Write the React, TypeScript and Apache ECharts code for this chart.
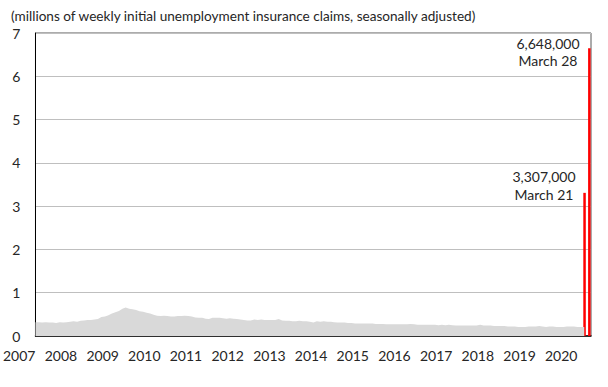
import React, { useEffect, useRef } from "react";
import * as echarts from "echarts";

// Monthly initial claims, millions (seasonally adjusted), Jan 2007 .. Mar 2020 (pre-surge weeks)
const firstYear = 2007;
const claims2007 = [0.32, 0.32, 0.31, 0.32, 0.31, 0.31, 0.30, 0.32, 0.31, 0.32, 0.33, 0.34];
const claims2008 = [0.33, 0.35, 0.36, 0.37, 0.37, 0.38, 0.39, 0.44, 0.45, 0.48, 0.52, 0.55];
const claims2009 = [0.58, 0.63, 0.66, 0.63, 0.62, 0.60, 0.57, 0.56, 0.54, 0.52, 0.49, 0.47];
const claims2010 = [0.46, 0.47, 0.46, 0.45, 0.45, 0.46, 0.46, 0.47, 0.46, 0.45, 0.43, 0.42];
const claims2011 = [0.42, 0.40, 0.39, 0.42, 0.42, 0.42, 0.41, 0.40, 0.41, 0.40, 0.39, 0.38];
const claims2012 = [0.37, 0.36, 0.36, 0.38, 0.37, 0.38, 0.37, 0.37, 0.37, 0.37, 0.39, 0.36];
const claims2013 = [0.35, 0.35, 0.34, 0.34, 0.35, 0.34, 0.34, 0.33, 0.31, 0.34, 0.33, 0.34];
const claims2014 = [0.33, 0.33, 0.32, 0.31, 0.31, 0.31, 0.30, 0.30, 0.29, 0.29, 0.29, 0.29];
const claims2015 = [0.29, 0.29, 0.28, 0.28, 0.28, 0.27, 0.27, 0.27, 0.27, 0.27, 0.27, 0.27];
const claims2016 = [0.28, 0.27, 0.26, 0.26, 0.26, 0.26, 0.26, 0.26, 0.25, 0.26, 0.25, 0.26];
const claims2017 = [0.25, 0.24, 0.24, 0.24, 0.24, 0.24, 0.24, 0.24, 0.26, 0.24, 0.24, 0.24];
const claims2018 = [0.23, 0.23, 0.23, 0.23, 0.22, 0.22, 0.22, 0.21, 0.21, 0.21, 0.22, 0.22];
const claims2019 = [0.22, 0.23, 0.22, 0.21, 0.22, 0.22, 0.21, 0.21, 0.21, 0.22, 0.22, 0.22];
const claims2020 = [0.21, 0.21, 0.21];

const surgeDates = ["2020-03-21", "2020-03-28"];
const surgeValues = [3.307, 6.648];
const surgeLabels = ["March 21", "March 28"];

const yearTicks = [2007, 2008, 2009, 2010, 2011, 2012, 2013, 2014, 2015, 2016, 2017, 2018, 2019, 2020];

const titleText = "(millions of weekly initial unemployment insurance claims, seasonally adjusted)";

const FONT = "Lato";
const TEXT = "#262626";

export default function App() {
  const ref = useRef<HTMLDivElement>(null);
  useEffect(() => {
    if (!ref.current) return;
    const chart = echarts.init(ref.current, undefined, { renderer: "svg" });
    const monthly = [
      claims2007, claims2008, claims2009, claims2010, claims2011, claims2012, claims2013,
      claims2014, claims2015, claims2016, claims2017, claims2018, claims2019, claims2020,
    ].flat();
    const areaData = monthly.map((v, i) => [
      Date.UTC(firstYear + Math.floor(i / 12), i % 12, 1),
      v,
    ]);
    const toTs = (s: string) => {
      const [y, m, d] = s.split("-").map(Number);
      return Date.UTC(y, m - 1, d);
    };
    const fmt = (v: number) => Math.round(v * 1e6).toLocaleString("en-US");
    const labelPos = [
      { x: 544, y1: 176.5, y2: 194 },
      { x: 548, y1: 43, y2: 60 },
    ];
    const graphics: any[] = [
      {
        type: "text",
        left: 11,
        top: 9,
        style: { text: titleText, font: `13.6px ${FONT}`, fill: TEXT },
      },
    ];
    surgeValues.forEach((v, i) => {
      graphics.push({
        type: "text",
        x: labelPos[i].x,
        y: labelPos[i].y1,
        style: { text: fmt(v), font: `14px ${FONT}`, fill: TEXT, align: "center", verticalAlign: "middle" },
      });
      graphics.push({
        type: "text",
        x: labelPos[i].x,
        y: labelPos[i].y2,
        style: { text: surgeLabels[i], font: `14px ${FONT}`, fill: TEXT, align: "center", verticalAlign: "middle" },
      });
    });

    chart.setOption({
      animation: false,
      grid: { left: 35, right: 17, top: 33, bottom: 51, show: true, borderColor: "#595959", borderWidth: 1 },
      xAxis: {
        type: "value",
        min: Date.UTC(2007, 0, 1),
        max: Date.UTC(2020, 3, 29),
        axisLine: { lineStyle: { color: "#000", width: 1.5 } },
        axisTick: { show: false },
        splitLine: { show: false },
        axisLabel: {
          customValues: yearTicks.map((y) => Date.UTC(y, 0, 1)),
          formatter: (v: number) => String(new Date(v).getUTCFullYear()),
          align: "right",
          margin: 12,
          fontFamily: FONT,
          fontSize: 14,
          color: TEXT,
        },
      },
      yAxis: {
        type: "value",
        min: 0,
        max: 7,
        interval: 1,
        axisLine: { show: true, lineStyle: { color: "#000", width: 1 } },
        axisTick: { show: false },
        splitLine: { lineStyle: { color: "#bfbfbf", width: 1 } },
        axisLabel: { margin: 15, fontFamily: FONT, fontSize: 14, color: TEXT },
      },
      series: [
        {
          type: "line",
          data: areaData,
          showSymbol: false,
          silent: true,
          lineStyle: { width: 0, opacity: 0 },
          areaStyle: { color: "#d9d9d9", opacity: 1 },
        },
        ...surgeValues.map((v, i) => ({
          type: "bar",
          name: surgeLabels[i],
          data: [[toTs(surgeDates[i]), v]],
          barWidth: 2.5,
          barGap: "60%",
          itemStyle: { color: "#ff0000" },
          silent: true,
        })),
      ],
      graphic: graphics,
    });
    return () => chart.dispose();
  }, []);
  return <div ref={ref} style={{ width: 608, height: 387, position: "absolute", left: 0, top: 0 }} />;
}
